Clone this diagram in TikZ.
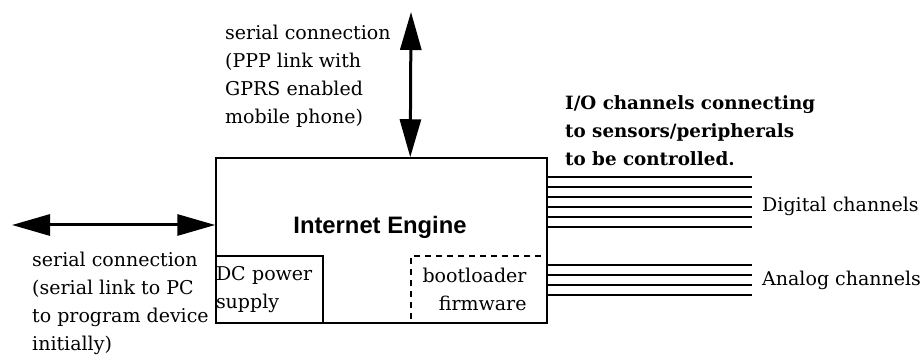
\documentclass[tikz,border=0pt]{standalone}
\usepackage{fontspec}
\setmainfont{DejaVu Serif}
\setsansfont{Liberation Sans}
\usetikzlibrary{arrows.meta, positioning, calc}

\begin{document}
\begin{tikzpicture}[
    x=1pt, y=-1pt,
    box/.style={draw, line width=1.5pt, inner sep=0pt},
    lbl/.style={align=left, inner sep=0pt, font=\fontsize{19}{28}\selectfont},
    chan/.style={line width=1.4pt},
    link/.style={{Triangle[length=38pt,width=21pt]}-{Triangle[length=38pt,width=21pt]}, line width=3pt}
]
\useasboundingbox (0,0) rectangle (924,358);
\node[box, minimum width=331pt, minimum height=165pt] (engine) at (381.5,240.5) {};
\node[font=\sffamily\bfseries\fontsize{23.8}{28}\selectfont] (title) at (380,227) {Internet Engine};
\node[box, lbl, anchor=south west, minimum height=67pt, text width=107pt] (power) at (engine.south west) {DC power\\supply};
\node[box, dashed, dash pattern=on 6pt off 5pt, anchor=south east, minimum width=136pt, minimum height=67pt] (boot) at (engine.south east) {};
\node[lbl, align=right, left=21pt of boot.east] (bootfw) {bootloader\\firmware};

\coordinate (pppend) at (411,12);
\coordinate (pcend) at (12,225);
\node[lbl, anchor=base west] (ppp) at (225,124) {serial connection\\(PPP link with\\GPRS enabled\\mobile phone)};
\node[lbl, anchor=base west] (pc) at (32,350) {serial connection\\(serial link to PC\\to program device\\initially)};
\node[lbl, font=\bfseries\fontsize{18.3}{28}\selectfont, anchor=base west] (io) at (565,166) {I/O channels connecting\\to sensors/peripherals\\to be controlled.};
\node[lbl, anchor=base west, inner xsep=10pt] (digital) at (752,212) {Digital channels};
\node[lbl, anchor=base west, inner xsep=10pt] (analog) at (752,285) {Analog channels};

\draw[link] (pppend) -- (boot.west |- engine.north);
\draw[link] (pcend) -- (pcend -| engine.west);
\foreach \y in {177,187,197,207,217,227}
    \draw[chan] (engine.east |- 0,\y) -- (digital.west |- 0,\y);
\foreach \y in {265,275,285,295}
    \draw[chan] (engine.east |- 0,\y) -- (analog.west |- 0,\y);
\end{tikzpicture}
\end{document}
